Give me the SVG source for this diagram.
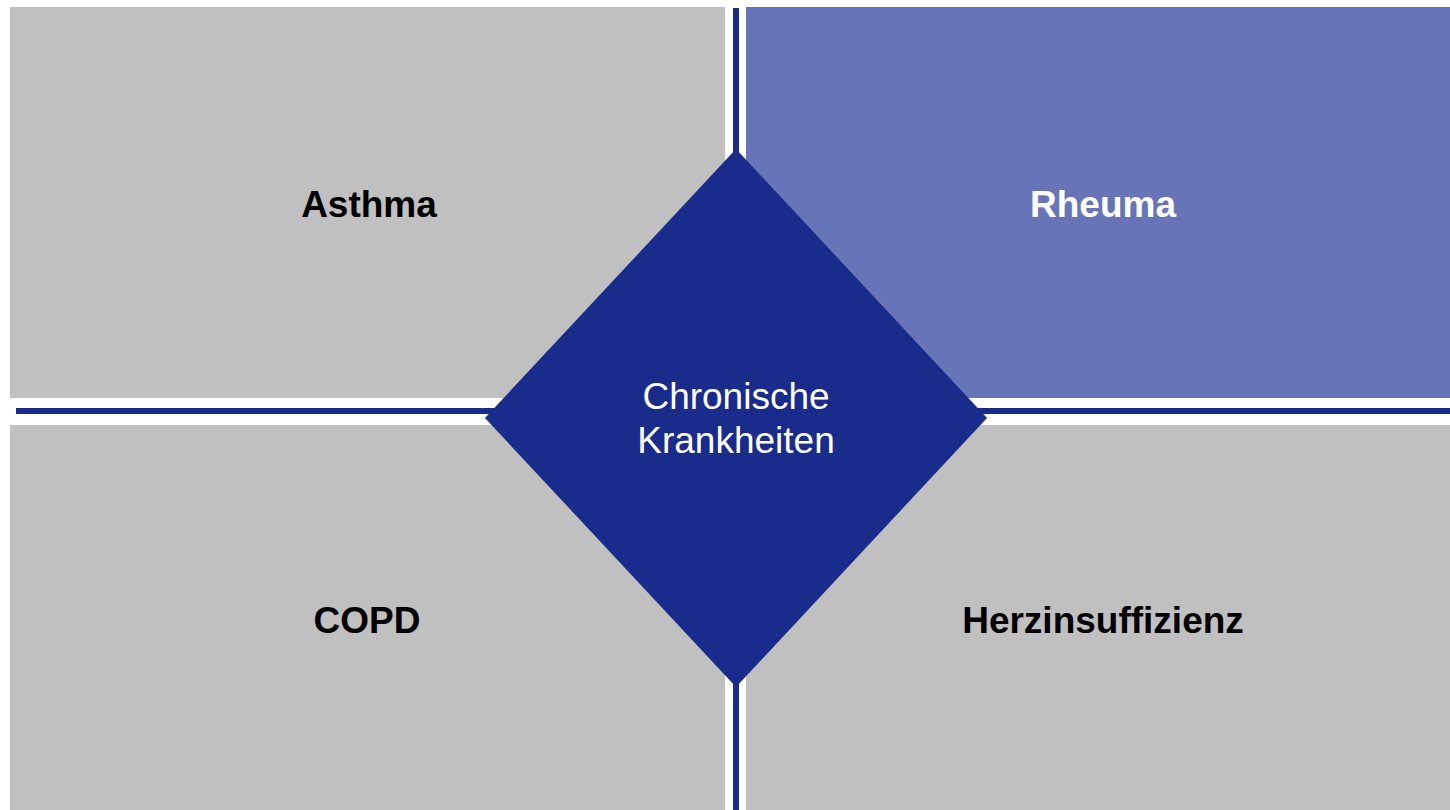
<svg xmlns="http://www.w3.org/2000/svg" width="1450" height="810" viewBox="0 0 1450 810">
<style>
.box{fill:#c0c0c0}
.hl{fill:#6874b8}
.line{fill:#192c8c}
.lbl{font-family:"Liberation Sans",Arial,sans-serif;font-size:37px;font-weight:bold;text-anchor:middle;fill:#000}
.w{fill:#fff}
.ctr{font-family:"Liberation Sans",Arial,sans-serif;font-size:37px;text-anchor:middle;fill:#fff}
</style>
<rect width="1450" height="810" fill="#fff"/>
<g id="node-asthma"><rect class="box" x="10" y="7" width="715" height="391"/><text class="lbl" x="369" y="217">Asthma</text></g>
<g id="node-rheuma"><rect class="hl" x="746" y="7" width="704" height="391"/><text class="lbl w" x="1103" y="217">Rheuma</text></g>
<g id="node-copd"><rect class="box" x="10" y="425" width="715" height="385"/><text class="lbl" x="367" y="633">COPD</text></g>
<g id="node-herz"><rect class="box" x="746" y="425" width="704" height="385"/><text class="lbl" x="1103" y="633">Herzinsuffizienz</text></g>
<g id="connectors">
<rect class="line" x="733" y="8" width="6" height="802"/>
<rect class="line" x="16" y="408" width="1434" height="6"/>
</g>
<g id="node-center">
<polygon class="line" points="736,149 987,418 736,687 485,418"/>
<text class="ctr" x="736" y="409">Chronische</text>
<text class="ctr" x="736" y="453">Krankheiten</text>
</g>
</svg>
